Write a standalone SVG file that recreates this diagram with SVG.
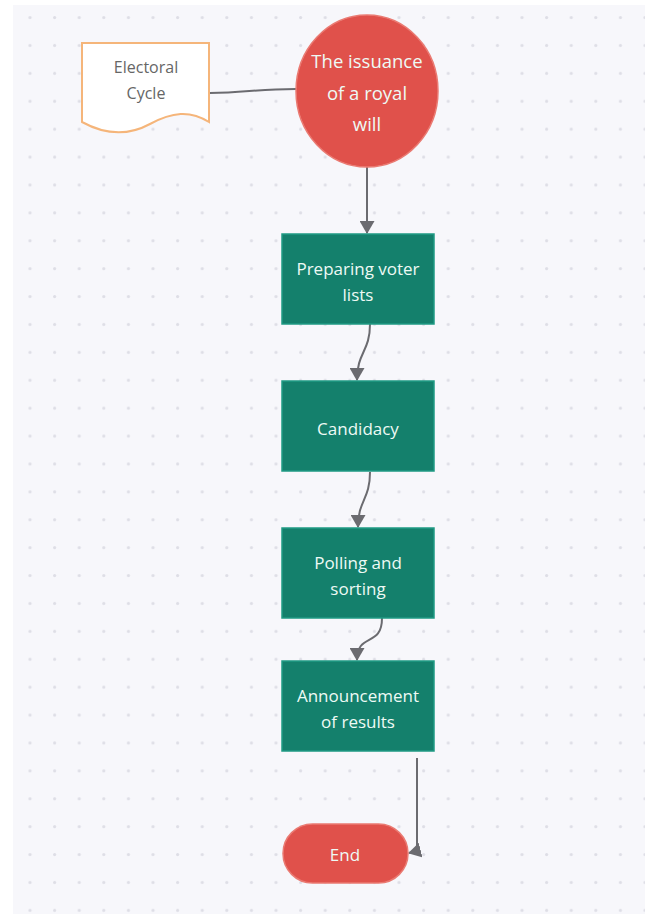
<svg xmlns="http://www.w3.org/2000/svg" width="645" height="914" viewBox="0 0 645 914">
<style>
.lbl{font-family:"Open Sans","Noto Sans","Liberation Sans",sans-serif;font-size:17px;text-anchor:middle;dominant-baseline:central}
.big{font-size:18.5px}
.sm{font-size:16px;fill:#666}
.w{fill:#eefaf5}
.box{fill:#14806c;stroke:#1f9a84;stroke-width:1.5}
.red{fill:#e0514b;stroke:#ea7a72;stroke-width:1.5}
.edge{fill:none;stroke:#6b6b70;stroke-width:2}
</style>
<defs>
<pattern id="dots" x="3.8" y="16" width="24.6" height="27.9" patternUnits="userSpaceOnUse">
<circle cx="1.6" cy="1.6" r="1.6" fill="#dedee6"/>
</pattern>
<marker id="ah" markerWidth="15" markerHeight="15" refX="12" refY="7.5" orient="auto" markerUnits="userSpaceOnUse">
<path d="M0,0 L13,7.5 L0,15 Z" fill="#6b6b70"/>
</marker>
</defs>
<rect x="0" y="0" width="645" height="914" fill="#ffffff"/>
<rect x="13" y="5" width="632" height="909" fill="#f7f7fb"/>
<rect x="13" y="5" width="632" height="909" fill="url(#dots)"/>
<g id="connectors">
<path class="edge" d="M210,93 C245,93 255,89 296,89"/>
<path class="edge" d="M367,167 V233" marker-end="url(#ah)"/>
<path class="edge" d="M370,324 C370,352 357,352 357,380" marker-end="url(#ah)"/>
<path class="edge" d="M370,472 C370,500 358,500 358,527" marker-end="url(#ah)"/>
<path class="edge" d="M382,618 C382,648 357,632 357,660" marker-end="url(#ah)"/>
<path class="edge" d="M417,758 V851 L409,853" marker-end="url(#ah)"/>
</g>
<g id="electoral-cycle">
<path d="M82,43 H209 V122 C190,110 172,112 150,124 C126,137 102,133 82,122 Z" fill="#ffffff" stroke="#f5b57a" stroke-width="2"/>
<text class="lbl sm" x="146" y="67">Electoral</text>
<text class="lbl sm" x="146" y="93">Cycle</text>
</g>
<g id="royal-will">
<ellipse class="red" cx="367" cy="91" rx="71" ry="76"/>
<text class="lbl w big" x="367" y="60">The issuance</text>
<text class="lbl w big" x="367" y="92">of a royal</text>
<text class="lbl w big" x="367" y="123">will</text>
</g>
<g id="preparing">
<rect class="box" x="282" y="234" width="152" height="90"/>
<text class="lbl w" x="358" y="268">Preparing voter</text>
<text class="lbl w" x="358" y="294">lists</text>
</g>
<g id="candidacy">
<rect class="box" x="282" y="381" width="152" height="90"/>
<text class="lbl w" x="358" y="428">Candidacy</text>
</g>
<g id="polling">
<rect class="box" x="282" y="528" width="152" height="90"/>
<text class="lbl w" x="358" y="562">Polling and</text>
<text class="lbl w" x="358" y="588">sorting</text>
</g>
<g id="announcement">
<rect class="box" x="282" y="661" width="152" height="90"/>
<text class="lbl w" x="358" y="695">Announcement</text>
<text class="lbl w" x="358" y="721">of results</text>
</g>
<g id="end">
<rect class="red" x="283" y="824" width="125" height="59" rx="29.5"/>
<text class="lbl w" x="345" y="854">End</text>
</g>
</svg>
